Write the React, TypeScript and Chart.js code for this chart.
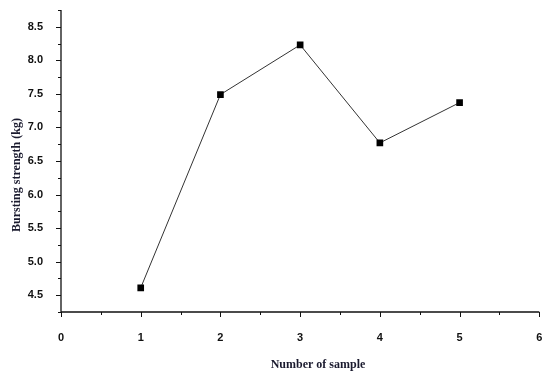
import React, { useEffect, useRef } from "react";
import { Chart, registerables } from "chart.js";

Chart.register(...registerables);

const samples = [1, 2, 3, 4, 5];
const burstingStrength = [4.61, 7.49, 8.23, 6.77, 7.37];
const xTitle = "Number of sample";
const yTitle = "Bursting strength (kg)";

const tickFont = { family: "'Liberation Sans', Arial, sans-serif", size: 11, weight: "bold" as const };
const titleFont = "bold 12px 'Liberation Serif', 'Times New Roman', serif";

const axisDecor = {
  id: "axisDecor",
  afterDraw(chart: any) {
    const ctx = chart.ctx;
    const { left, right, top, bottom } = chart.chartArea;
    const xs = chart.scales.x;
    const ys = chart.scales.y;
    ctx.save();
    ctx.strokeStyle = "#111";
    ctx.lineWidth = 1.3;
    ctx.beginPath();
    ctx.moveTo(left, top);
    ctx.lineTo(left, bottom);
    ctx.moveTo(left, bottom);
    ctx.lineTo(right, bottom);
    ctx.stroke();
    ctx.lineWidth = 1;
    for (let v = xs.min; v <= xs.max + 1e-9; v += 0.5) {
      const px = Math.round(xs.getPixelForValue(v)) + 0.5;
      const major = Math.abs(v - Math.round(v)) < 1e-6;
      ctx.beginPath();
      ctx.moveTo(px, bottom);
      ctx.lineTo(px, bottom + (major ? 5 : 3));
      ctx.stroke();
    }
    for (let v = ys.min; v <= ys.max + 1e-9; v += 0.25) {
      const py = Math.round(ys.getPixelForValue(v)) + 0.5;
      const major = Math.abs(v * 2 - Math.round(v * 2)) < 1e-6;
      ctx.beginPath();
      ctx.moveTo(left, py);
      ctx.lineTo(left - (major ? 5 : 3), py);
      ctx.stroke();
    }
    ctx.fillStyle = "#1a1a2e";
    ctx.font = titleFont;
    ctx.textAlign = "center";
    ctx.textBaseline = "middle";
    ctx.fillText(xTitle, 318, 365);
    ctx.translate(17, 175);
    ctx.rotate(-Math.PI / 2);
    ctx.fillText(yTitle, 0, 0);
    ctx.restore();
  },
};

export default function App() {
  const ref = useRef<HTMLCanvasElement>(null);
  useEffect(() => {
    document.body.style.margin = "0";
    const chart = new Chart(ref.current!, {
      type: "line",
      data: {
        datasets: [
          {
            data: samples.map((s, i) => ({ x: s, y: burstingStrength[i] })),
            borderColor: "#333",
            borderWidth: 1,
            pointStyle: "rect",
            pointRadius: 4.7,
            pointBackgroundColor: "#000",
            pointBorderColor: "#000",
            pointBorderWidth: 0,
            tension: 0,
          },
        ],
      },
      options: {
        animation: false,
        responsive: false,
        maintainAspectRatio: false,
        layout: { padding: { left: 0, right: 1, top: 10, bottom: 0 } },
        plugins: { legend: { display: false }, tooltip: { enabled: false } },
        scales: {
          x: {
            type: "linear",
            min: 0,
            max: 6,
            grid: { display: false },
            border: { display: false },
            ticks: { stepSize: 1, color: "#111", font: tickFont, padding: 11, maxRotation: 0 },
            afterFit(scale: any) {
              scale.height = 62;
              scale.paddingLeft = 0;
              scale.paddingRight = 0;
            },
          },
          y: {
            type: "linear",
            min: 4.25,
            max: 8.75,
            grid: { display: false },
            border: { display: false },
            ticks: {
              stepSize: 0.25,
              color: "#111",
              font: tickFont,
              padding: 10,
              autoSkip: false,
              callback: (v: any) => {
                const n = Number(v);
                return Math.abs(n * 2 - Math.round(n * 2)) < 1e-6 ? n.toFixed(1) : "";
              },
            },
            afterFit(scale: any) {
              scale.width = 61;
              scale.paddingTop = 0;
              scale.paddingBottom = 0;
            },
          },
        },
      },
      plugins: [axisDecor],
    });
    return () => chart.destroy();
  }, []);
  return (
    <div style={{ width: 544, height: 374, background: "#fff" }}>
      <canvas ref={ref} width={544} height={374} style={{ display: "block" }} />
    </div>
  );
}
